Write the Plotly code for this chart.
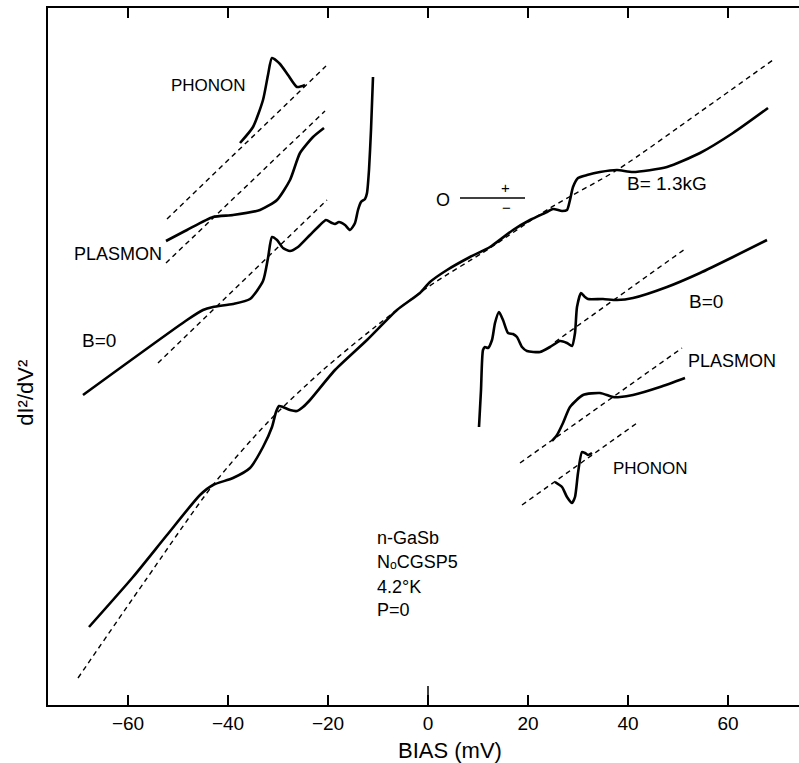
import plotly.graph_objects as go

# ---------------- data (BIAS in mV, dI2/dV2 in arbitrary units) ----------------
# Main trace, B = 1.3 kG
main_x = [-67.8, -59.0, -52.2, -45.6, -43.0, -39.0, -35.6, -33.0, -31.2, -30.4, -29.8, -29.0,
          -27.6, -26.2, -25.0, -23.6, -18.6, -12.2, -6.2, -1.6, 0.4, 3.8, 8.4, 12.4, 17.0,
          20.4, 23.8, 25.0, 26.8, 27.8, 28.4, 29.0, 30.0, 31.8, 34.4, 37.8, 41.0, 47.8,
          54.4, 61.0, 68.0]
main_y = [7.8, 12.8, 17.0, 21.0, 22.0, 22.7, 23.7, 25.8, 27.8, 29.3, 29.9, 29.8,
          29.5, 29.4, 29.8, 30.5, 33.5, 36.5, 39.5, 41.2, 42.3, 43.5, 44.8, 45.8, 47.5,
          48.5, 49.3, 49.6, 49.4, 49.5, 50.5, 51.8, 52.7, 53.0, 53.3, 53.5, 53.3, 53.8,
          55.2, 57.2, 59.7]
# Background (dashed) for main trace
main_bg_x = [-70.0, -56.6, -43.0, -32.0, -21.0, -10.6, 0.0, 12.4, 24.4, 37.8, 54.4, 69.0]
main_bg_y = [2.7, 12.4, 22.0, 28.3, 33.5, 37.8, 41.8, 45.7, 49.7, 53.5, 59.3, 64.5]

# Upper-left, B = 0 (negative bias)
b0n_x = [-69.0, -48.2, -45.0, -43.0, -39.0, -35.6, -33.0, -32.0, -31.2, -30.2, -29.0, -27.6,
         -26.0, -23.6, -21.6, -20.4, -19.2, -18.6, -17.8, -16.6, -15.6, -14.6, -14.0, -13.4,
         -12.6, -12.2, -11.8, -11.4, -11.0]
b0n_y = [31.0, 38.5, 39.5, 39.8, 40.1, 40.6, 42.4, 44.7, 46.8, 46.5, 45.7, 45.4,
         45.8, 47.0, 48.0, 48.5, 48.2, 48.1, 48.3, 48.0, 47.5, 48.2, 49.5, 50.3,
         50.6, 51.2, 53.5, 57.5, 62.8]
b0n_bg_x = [-54.0, -20.2]
b0n_bg_y = [34.2, 50.5]

# Upper-left plasmon component
plasn_x = [-52.4, -48.2, -43.0, -39.0, -33.6, -30.2, -27.6, -25.6, -23.0, -20.8]
plasn_y = [46.4, 47.5, 48.8, 49.0, 49.5, 50.5, 52.5, 55.2, 56.8, 57.7]
plasn_bg_x = [-52.4, -20.6]
plasn_bg_y = [44.2, 59.4]

# Upper-left phonon component
phon_n_x = [-37.6, -35.0, -33.0, -32.0, -31.2, -29.6, -28.0, -26.2, -24.6]
phon_n_y = [56.2, 57.8, 60.5, 63.0, 64.7, 64.1, 63.0, 61.8, 62.0]
phon_n_bg_x = [-52.2, -20.4]
phon_n_bg_y = [48.6, 63.9]

# Right, B = 0 (positive bias)
b0p_x = [10.2, 10.6, 11.0, 11.4, 12.0, 12.8, 13.4, 14.2, 15.0, 16.0, 17.0, 17.8, 18.8,
         19.8, 22.4, 24.4, 26.4, 27.8, 28.8, 29.4, 29.8, 30.6, 31.4, 32.0, 35.0, 37.8,
         41.0, 47.8, 54.4, 61.0, 67.8]
b0p_y = [27.8, 31.5, 35.5, 35.8, 35.7, 36.5, 38.2, 39.3, 38.5, 37.2, 37.1, 36.8, 35.8,
         35.4, 35.3, 35.8, 36.4, 36.2, 35.9, 37.2, 39.8, 41.2, 40.8, 40.6, 40.6, 40.5,
         40.7, 41.8, 43.2, 44.8, 46.5]
b0p_bg_x = [25.4, 51.4]
b0p_bg_y = [36.3, 45.6]

# Right plasmon component
plasp_x = [24.8, 25.8, 27.0, 28.4, 31.0, 34.4, 37.0, 38.4, 41.0, 46.4, 51.4]
plasp_y = [26.4, 27.0, 28.2, 29.8, 31.0, 31.2, 30.8, 30.8, 31.0, 31.8, 32.7]
plasp_bg_x = [18.4, 50.8]
plasp_bg_y = [24.2, 35.7]

# Right phonon component
phon_p_x = [25.4, 26.8, 27.8, 28.8, 29.4, 30.0, 30.8, 31.4, 32.0, 32.8]
phon_p_y = [22.3, 21.8, 20.8, 20.2, 20.8, 23.2, 25.3, 25.2, 25.0, 25.2]
phon_p_bg_x = [18.8, 41.8]
phon_p_bg_y = [20.0, 28.2]

tick_vals = [-60, -40, -20, 0, 20, 40, 60]
tick_text = ["\u221260", "\u221240", "\u221220", "0", "20", "40", "60"]

# ---------------- figure ----------------
FONT = "Liberation Sans, Arial, Helvetica, sans-serif"
fig = go.Figure()

def solid(x, y, smooth=0.6):
    fig.add_trace(go.Scatter(x=x, y=y, mode="lines",
                             line=dict(color="black", width=2.6, shape="spline", smoothing=smooth),
                             hoverinfo="skip"))

def dashed(x, y, smooth=0.8):
    fig.add_trace(go.Scatter(x=x, y=y, mode="lines",
                             line=dict(color="black", width=1.4, dash="5px,4px",
                                       shape="spline" if len(x) > 2 else "linear", smoothing=smooth),
                             hoverinfo="skip"))

dashed(main_bg_x, main_bg_y)
dashed(b0n_bg_x, b0n_bg_y)
dashed(plasn_bg_x, plasn_bg_y)
dashed(phon_n_bg_x, phon_n_bg_y)
dashed(b0p_bg_x, b0p_bg_y)
dashed(plasp_bg_x, plasp_bg_y)
dashed(phon_p_bg_x, phon_p_bg_y)

solid(main_x, main_y)
solid(b0n_x, b0n_y)
solid(plasn_x, plasn_y)
solid(phon_n_x, phon_n_y)
solid(b0p_x, b0p_y)
solid(plasp_x, plasp_y)
solid(phon_p_x, phon_p_y)

def label(text, x, y, size=17, xanchor="center"):
    fig.add_annotation(x=x, y=y, xref="x", yref="y", text=text, showarrow=False,
                       xanchor=xanchor, yanchor="middle",
                       font=dict(family=FONT, size=size, color="black"))

label("PHONON", -44.0, 62.0)
label("PLASMON", -62.0, 45.1, size=18)
label("B=0", -65.8, 36.5, size=19)
label("O", 3.0, 50.5, size=18)
label("+", 15.4, 51.8, size=15)
label("\u2212", 15.6, 49.8, size=15)
label("B= 1.3kG", 47.8, 52.2, size=19)
label("B=0", 55.6, 40.4, size=19)
label("PLASMON", 60.8, 34.4, size=18)
label("PHONON", 44.4, 23.7)

info_lines = ["n-GaSb", "N\u2092CGSP5", "4.2°K", "P=0"]
info_y = [16.7, 14.3, 11.8, 9.5]
for t, yy in zip(info_lines, info_y):
    label(t, -10.6, yy, size=18, xanchor="left")

# polarity line
fig.add_shape(type="line", x0=6.4, x1=19.4, y0=50.7, y1=50.7, xref="x", yref="y",
              line=dict(color="black", width=1.3))
# longer tick at zero bias
fig.add_shape(type="line", x0=0, x1=0, y0=0, y1=1.9, xref="x", yref="y",
              line=dict(color="black", width=1.5))

# axis titles
fig.add_annotation(xref="paper", yref="paper", x=-0.031, y=0.4476,
                   text="dI²/dV²",
                   textangle=-90, showarrow=False, xanchor="center", yanchor="middle",
                   font=dict(family=FONT, size=22, color="black"))
fig.add_annotation(xref="paper", yref="paper", x=0.535, y=-0.0646, text="BIAS (mV)",
                   showarrow=False, xanchor="center", yanchor="middle",
                   font=dict(family=FONT, size=22, color="black"))

fig.update_layout(
    width=799, height=763,
    margin=dict(l=48, r=0, t=8, b=58),
    paper_bgcolor="white", plot_bgcolor="white",
    showlegend=False, hovermode=False,
    xaxis=dict(range=[-76, 74.2], showgrid=False, zeroline=False,
               showline=True, linecolor="black", linewidth=2, mirror="ticks",
               ticks="inside", ticklen=10, tickwidth=1.5, tickcolor="black",
               tickvals=tick_vals, ticktext=tick_text,
               tickfont=dict(family=FONT, size=19, color="black")),
    yaxis=dict(range=[0, 69.7], showgrid=False, zeroline=False,
               showline=True, linecolor="black", linewidth=2, mirror=False,
               ticks="", showticklabels=False),
)

fig.write_html("out.html")
